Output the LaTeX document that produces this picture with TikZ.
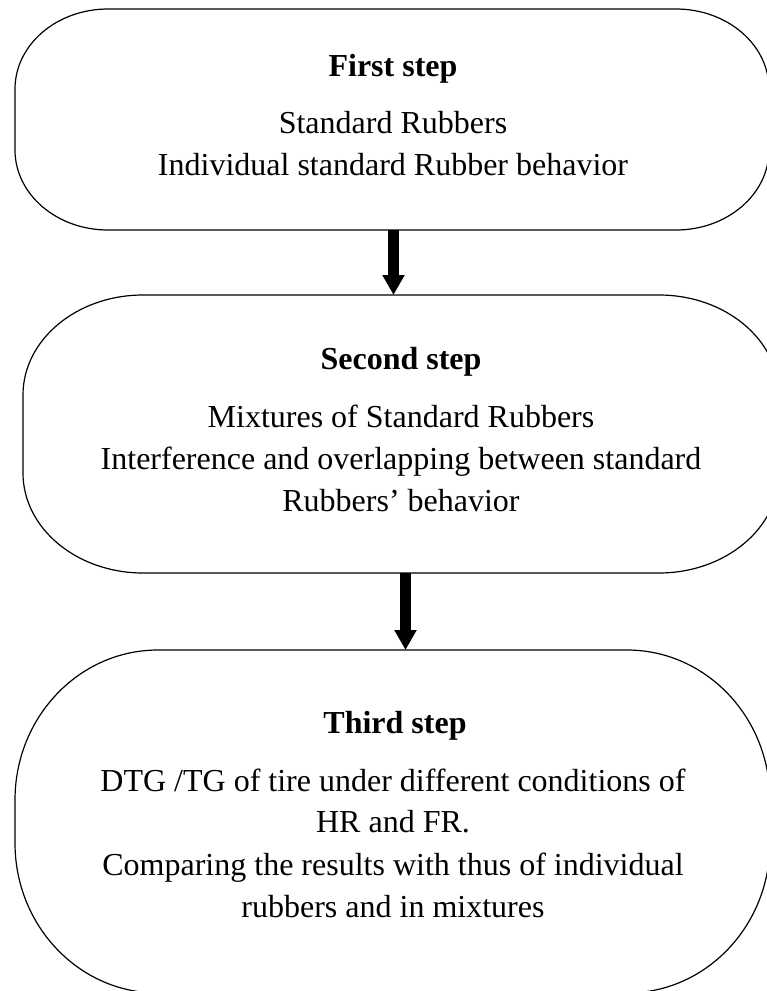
\documentclass[tikz,border=0pt]{standalone}
\usepackage{fontspec}
\setmainfont{Liberation Serif}
\usetikzlibrary{arrows.meta}
\begin{document}
\begin{tikzpicture}[x=1pt,y=-1pt,
  boxline/.style={draw=black,line width=1.2pt},
  boxnode/.style={inner sep=0pt,outer sep=0pt,draw=none},
  txt/.style={anchor=base,inner sep=0pt,font=\fontsize{32}{38}\selectfont},
  head/.style={txt,font=\fontsize{32}{38}\selectfont\bfseries},
  bigarrow/.style={line width=11pt,-{Triangle[width=21pt,length=20pt]}}]
\useasboundingbox (0,0) rectangle (767,991);
\clip (0,0) rectangle (767,991);
% invisible nodes giving each box's extent
\node[boxnode,minimum width=754pt,minimum height=221pt] (b1) at (392,119.5) {};
\node[boxnode,minimum width=756pt,minimum height=278pt] (b2) at (401,434) {};
\node[boxnode,minimum width=755pt,minimum height=343pt] (b3) at (392.5,821.5) {};
% box outlines (rounded corners with elliptical arcs)
\draw[boxline] ([xshift=93pt]b1.north west) -- ([xshift=-93pt]b1.north east)
  arc[start angle=90,end angle=0,x radius=93pt,y radius=80pt]
  -- ([yshift=80pt]b1.south east)
  arc[start angle=0,end angle=-90,x radius=93pt,y radius=80pt]
  -- ([xshift=93pt]b1.south west)
  arc[start angle=270,end angle=180,x radius=93pt,y radius=80pt]
  -- ([yshift=-80pt]b1.north west)
  arc[start angle=180,end angle=90,x radius=93pt,y radius=80pt] -- cycle;
\draw[boxline] ([xshift=120pt]b2.north west) -- ([xshift=-120pt]b2.north east)
  arc[start angle=90,end angle=0,x radius=120pt,y radius=100pt]
  -- ([yshift=100pt]b2.south east)
  arc[start angle=0,end angle=-90,x radius=120pt,y radius=100pt]
  -- ([xshift=120pt]b2.south west)
  arc[start angle=270,end angle=180,x radius=120pt,y radius=100pt]
  -- ([yshift=-100pt]b2.north west)
  arc[start angle=180,end angle=90,x radius=120pt,y radius=100pt] -- cycle;
\draw[boxline] ([xshift=143pt]b3.north west) -- ([xshift=-143pt]b3.north east)
  arc[start angle=90,end angle=0,x radius=143pt,y radius=150pt]
  -- ([yshift=150pt]b3.south east)
  arc[start angle=0,end angle=-90,x radius=143pt,y radius=150pt]
  -- ([xshift=143pt]b3.south west)
  arc[start angle=270,end angle=180,x radius=143pt,y radius=150pt]
  -- ([yshift=-150pt]b3.north west)
  arc[start angle=180,end angle=90,x radius=143pt,y radius=150pt] -- cycle;
% texts
\node[head] (h1) at (393,76) {First step};
\node[txt] (t1a) at (393,133) {Standard Rubbers};
\node[txt] (t1b) at (393,175) {Individual standard Rubber behavior};
\node[head] (h2) at (401,369) {Second step};
\node[txt] (t2a) at (401,427) {Mixtures of Standard Rubbers};
\node[txt] (t2b) at (401,469) {Interference and overlapping between standard};
\node[txt] (t2c) at (401,511) {Rubbers’ behavior};
\node[head] (h3) at (395,733) {Third step};
\node[txt] (t3a) at (393,791) {DTG /TG of tire under different conditions of};
\node[txt] (t3b) at (393,832) {HR and FR.};
\node[txt] (t3c) at (393,875) {Comparing the results with thus of individual};
\node[txt] (t3d) at (393,917) {rubbers and in mixtures};
% arrows
\coordinate (a1) at (393.5,0);
\coordinate (a2) at (405.5,0);
\draw[bigarrow] (b1.south -| a1) -- (b2.north -| a1);
\draw[bigarrow] (b2.south -| a2) -- (b3.north -| a2);
\end{tikzpicture}
\end{document}
